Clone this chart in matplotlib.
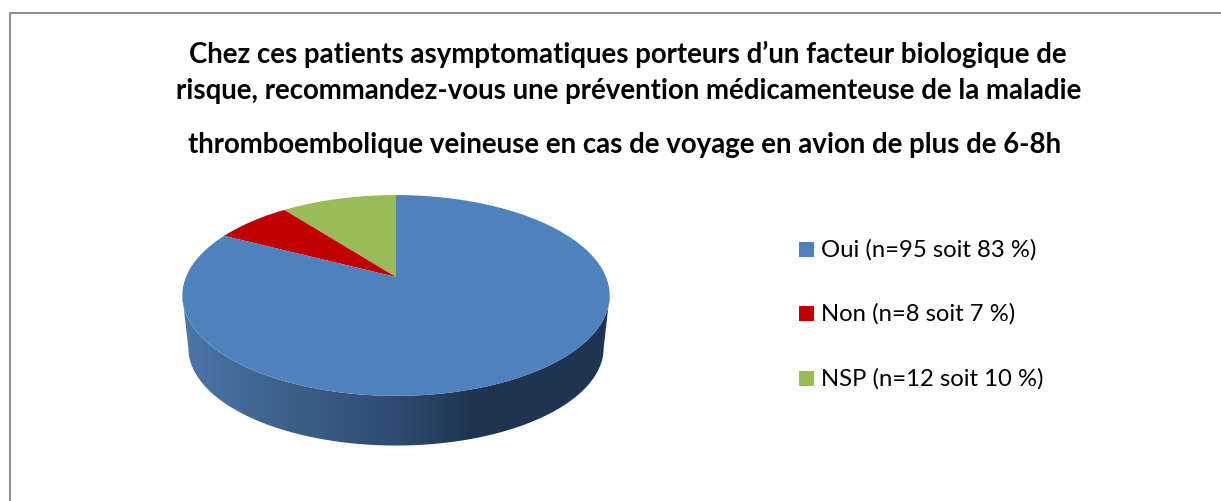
import numpy as np
import matplotlib
matplotlib.use('Agg')
import matplotlib.pyplot as plt
from matplotlib.colors import LinearSegmentedColormap
from matplotlib.patches import Polygon, Rectangle

plt.rcParams['font.family'] = ['Lato', 'DejaVu Sans']

# donnees
categories = ['Oui', 'Non', 'NSP']
effectifs = [95, 8, 12]
pourcentages = [83, 7, 10]
couleurs = ['#4f81bd', '#c00000', '#9bbb59']

titre = ['Chez ces patients asymptomatiques porteurs d’un facteur biologique de',
         'risque, recommandez-vous une prévention médicamenteuse de la maladie',
         'thromboembolique veineuse en cas de voyage en avion de plus de 6-8h']


def rim(a, cy, scale=1.0):
    # projection en perspective du cercle (a en radians, sens horaire depuis le haut)
    k = 0.184
    X, Y = np.sin(a), np.cos(a)
    d = 1 + k * Y
    return 396 + scale * 210 * X / d, cy - scale * 97 * Y / d


fig = plt.figure(figsize=(12.21, 5.02), dpi=100)
ax = fig.add_axes([0, 0, 1, 1])

# flanc du camembert avec degrade, entre les deux extremes de l'ellipse
a = np.linspace(np.radians(100.6), np.radians(259.4), 200)
xh, yh = rim(a, 278)
xb, yb = rim(a, 331, 0.972)
flanc = Polygon(np.c_[np.r_[xh, xb[::-1]], np.r_[yh, yb[::-1]]], closed=True, fc='none', ec='none', transform=ax.transData)
ax.add_patch(flanc)
cmap = LinearSegmentedColormap.from_list('flanc', [(0, '#4b77a9'), (0.2, '#3f648f'), (0.5, '#2e4c72'), (0.68, '#1f3450'), (1, '#1e3450')])
im = ax.imshow(np.linspace(0, 1, 256).reshape(1, -1), cmap=cmap, extent=[182, 610, 447, 290], aspect='auto', zorder=1)
im.set_clip_path(flanc)

# face superieure, en partant du haut dans le sens horaire
# NSP puis Non puis Oui
ordre = [2, 1, 0]
debut = 0.0
total = sum(effectifs)
for i in ordre:
    fin = debut + effectifs[i] / total * 2 * np.pi
    t = np.linspace(debut, fin, 200)
    x, y = rim(-t, 278)
    ax.fill(np.r_[396, x], np.r_[278, y], color=couleurs[i], lw=0, zorder=2)
    debut = fin

# titre
for ligne, x, y in zip(titre, [628, 628.5, 624.5], [54.5, 90.5, 145]):
    ax.text(x, y, ligne, ha='center', va='center', fontsize=19.9, fontweight='bold', color='black')

# legende
for i, y in enumerate([250, 314, 379]):
    ax.add_patch(Rectangle((799, y - 7), 15, 15, fc=couleurs[i], ec='none'))
    ax.text(821, y, f'{categories[i]} (n={effectifs[i]} soit {pourcentages[i]} %)', ha='left', va='center', fontsize=17.2, color='black')

# cadre
ax.plot([10, 10, 1221], [502, 14, 14], color='#868686', lw=1.3, solid_joinstyle='miter')

ax.set_xlim(0, 1221)
ax.set_ylim(502, 0)
ax.axis('off')

fig.savefig('out.png', dpi=100)
